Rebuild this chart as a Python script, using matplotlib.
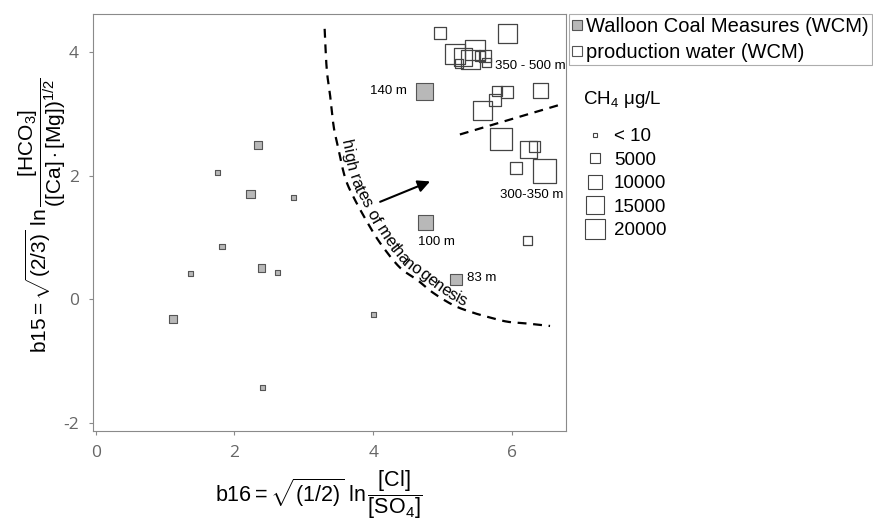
import numpy as np
import matplotlib
matplotlib.use("Agg")
import matplotlib.pyplot as plt
from matplotlib.lines import Line2D
from matplotlib.font_manager import FontProperties

plt.rcParams['font.family'] = ['Liberation Sans', 'DejaVu Sans']
plt.rcParams['mathtext.fontset'] = 'custom'
plt.rcParams['mathtext.rm'] = 'Liberation Sans'
plt.rcParams['mathtext.it'] = 'Liberation Sans:italic'
plt.rcParams['mathtext.bf'] = 'Liberation Sans:bold'
plt.rcParams['axes.unicode_minus'] = False

# ---------------- data ----------------
wcm_x = [2.34, 1.76, 2.23, 2.85, 1.82, 1.37, 2.39, 2.62, 1.11, 4.00, 2.41, 4.74, 4.75, 5.19]
wcm_y = [2.50, 2.05, 1.71, 1.65, 0.86, 0.42, 0.51, 0.44, -0.32, -0.25, -1.42, 3.37, 1.25, 0.32]
wcm_ch4 = [2300, 5, 2300, 5, 5, 5, 1600, 5, 1500, 5, 5, 12800, 9600, 5300]

pw_x = [4.97, 5.94, 5.18, 5.47, 5.30, 5.40, 5.24, 5.61, 5.54, 5.64, 5.78, 5.93, 5.76, 5.58,
        6.41, 5.84, 6.24, 6.32, 6.06, 6.47, 6.23]
pw_y = [4.32, 4.30, 3.97, 4.03, 3.92, 3.89, 3.82, 3.94, 3.94, 3.84, 3.38, 3.35, 3.23, 3.06,
        3.38, 2.59, 2.43, 2.47, 2.13, 2.08, 0.96]
pw_ch4 = [5700, 16000, 18000, 18000, 14000, 16000, 2000, 5700, 3600, 2700, 3600, 5700, 5700,
          16000, 9600, 22000, 12700, 4600, 5700, 26000, 2700]

size_legend_ch4 = [5, 5000, 10000, 15000, 20000]
size_legend_labels = ['< 10', '5000', '10000', '15000', '20000']
size_legend_title = r'CH$_4$ μg/L'

series_labels = ['Walloon Coal Measures (WCM)', 'production water (WCM)']

# depth labels attached to WCM points (index into wcm arrays)
depth_labels = ['140 m', '100 m', '83 m']
depth_idx = [11, 12, 13]
# zone labels
zone_labels = ['350 - 500 m', '300-350 m']
zone_x = [5.76, 5.83]
zone_y = [3.78, 1.69]

# methanogenesis boundary curve (annotation)
curve_x = [3.30, 3.33, 3.38, 3.43, 3.49, 3.59, 3.71, 3.95, 4.14, 4.39, 4.63, 4.86, 5.15,
           5.40, 5.64, 5.93, 6.22, 6.55]
curve_y = [4.38, 3.73, 3.29, 2.80, 2.48, 1.99, 1.67, 1.18, 0.85, 0.51, 0.32, 0.11, -0.09,
           -0.20, -0.28, -0.36, -0.39, -0.43]
curve_text = 'high rates of methanogenesis'
curve_text_start = (3.48, 2.55)
depth_line_x = [5.25, 6.72]
depth_line_y = [2.67, 3.16]
arrow_tail = (4.10, 1.58)
arrow_head = (4.82, 1.91)

# ---------------- helpers ----------------
def side_px(ch4):
    return np.sqrt(25 + 0.0208 * np.asarray(ch4, dtype=float))

def s_area(ch4):
    return (side_px(ch4) * 0.72) ** 2

W, H = 873, 524
fig = plt.figure(figsize=(W / 100, H / 100), dpi=100)
ax = fig.add_axes([93 / W, 1 - 431 / H, (566 - 93) / W, (431 - 14) / H])
ax.set_xlim(-0.04, 6.78)
ax.set_ylim(-2.13, 4.62)

ax.scatter(wcm_x, wcm_y, s=s_area(wcm_ch4), marker='s', facecolor='#b8b8b8',
           edgecolor='#555555', linewidth=0.8, zorder=3)
ax.scatter(pw_x, pw_y, s=s_area(pw_ch4), marker='s', facecolor='none',
           edgecolor='#444444', linewidth=0.9, zorder=3)

# depth labels
offsets = [(-13, 0, 'right', 'center'), (-5, -14, 'left', 'center'), (8, 1.5, 'left', 'center')]
for lab, i, (dx, dy, ha, va) in zip(depth_labels, depth_idx, offsets):
    ax.annotate(lab, xy=(wcm_x[i], wcm_y[i]), xytext=(dx, dy), textcoords='offset points',
                ha=ha, va=va, fontsize=9.5)
for lab, x, y in zip(zone_labels, zone_x, zone_y):
    ax.text(x, y, lab, ha='left', va='center', fontsize=9.5)

ax.plot(depth_line_x, depth_line_y, color='black', lw=1.6, ls=(0, (4, 3)))
ax.annotate('', xy=arrow_head, xytext=arrow_tail,
            arrowprops=dict(arrowstyle='-|>', color='black', lw=1.5, mutation_scale=18,
                            shrinkA=0, shrinkB=0))

# axes styling
for sp in ax.spines.values():
    sp.set_color('#8a8a8a')
    sp.set_linewidth(0.8)
ax.set_xticks([0, 2, 4, 6])
ax.set_yticks([-2, 0, 2, 4])
ax.tick_params(direction='out', length=3, color='#8a8a8a', labelcolor='#666666', labelsize=12.5, pad=7)
for t in ax.get_xticklabels() + ax.get_yticklabels():
    t.set_fontfamily(['Open Sans', 'DejaVu Sans'])

ax.set_xlabel(r'$\mathrm{b16} = \sqrt{(1/2)}\ \ln\dfrac{[\mathrm{Cl}]}{[\mathrm{SO}_4]}$', fontsize=15.5)
ax.xaxis.set_label_coords(0.476, (431 - 468) / 417)
ax.set_ylabel(r'$\mathrm{b15} = \sqrt{(2/3)}\ \ln\dfrac{[\mathrm{HCO}_3]}{([\mathrm{Ca}]\cdot[\mathrm{Mg}])^{1/2}}$',
              fontsize=15)
ax.yaxis.set_label_coords((68 - 93) / 473, 0.517)

# legends
h1 = [Line2D([], [], ls='', marker='s', markersize=6.5, markerfacecolor='#b8b8b8', markeredgecolor='#555555', markeredgewidth=0.8),
      Line2D([], [], ls='', marker='s', markersize=6.5, markerfacecolor='white', markeredgecolor='#555555', markeredgewidth=0.8)]
leg1 = ax.legend(h1, series_labels, loc='upper left', bbox_to_anchor=(569 / W, 1 - 14 / H),
                 bbox_transform=fig.transFigure, frameon=True, fancybox=False, edgecolor='#999999',
                 fontsize=14.5, borderpad=0.15, handlelength=0.45, handletextpad=0.25,
                 labelspacing=0.36, borderaxespad=0)
leg1.get_frame().set_linewidth(0.8)
ax.add_artist(leg1)

fig.text(583 / W, 1 - 100 / H, size_legend_title, fontsize=13.5, ha='left', va='center')
h2 = [Line2D([], [], ls='', marker='s', markersize=float(side_px(c)) * 0.72 - 0.5,
             markerfacecolor='white', markeredgecolor='#444444', markeredgewidth=0.8)
      for c in size_legend_ch4]
leg2 = ax.legend(h2, size_legend_labels, loc='upper left', bbox_to_anchor=(584 / W, 1 - 128 / H),
                 bbox_transform=fig.transFigure, frameon=False, fontsize=13.5,
                 handlelength=1.15, handletextpad=0.45, labelspacing=0.34, borderaxespad=0,
                 borderpad=0)

# curved boundary + curved text
fig.canvas.draw()
renderer = fig.canvas.get_renderer()

def catmull(P, n=40):
    P = np.vstack([2 * P[0] - P[1], P, 2 * P[-1] - P[-2]])
    out = []
    t = np.linspace(0, 1, n, endpoint=False)[:, None]
    for i in range(1, len(P) - 2):
        p0, p1, p2, p3 = P[i - 1], P[i], P[i + 1], P[i + 2]
        out.append(0.5 * ((2 * p1) + (-p0 + p2) * t + (2 * p0 - 5 * p1 + 4 * p2 - p3) * t ** 2
                          + (-p0 + 3 * p1 - 3 * p2 + p3) * t ** 3))
    out.append(P[-2][None])
    return np.vstack(out)

disp = ax.transData.transform(np.column_stack([curve_x, curve_y]))
dense = catmull(disp)
dense_data = ax.transData.inverted().transform(dense)
ax.plot(dense_data[:, 0], dense_data[:, 1], color='black', lw=1.6, ls=(0, (4, 3)))

seg = np.diff(dense, axis=0)
seglen = np.hypot(seg[:, 0], seg[:, 1])
keep = seglen > 1e-9
seg = seg[keep]
seglen = seglen[keep]
pts = np.vstack([dense[0], dense[0] + np.cumsum(seg, axis=0)])
cum = np.concatenate([[0], np.cumsum(seglen)])
start_disp = ax.transData.transform(curve_text_start)
s_cur = cum[np.argmin(np.hypot(pts[:, 0] - start_disp[0], pts[:, 1] - start_disp[1]))]

fp = FontProperties(family=['Liberation Sans'], size=12)
# advance of each character measured from the cumulative prefix width (keeps kerning consistent)
prefix_w = [0.0]
for k in range(1, len(curve_text) + 1):
    sub = curve_text[:k].replace(' ', '\u00a0')
    prefix_w.append(renderer.get_text_width_height_descent(sub + '|', fp, ismath=False)[0])
bar_w = renderer.get_text_width_height_descent('|', fp, ismath=False)[0]
prefix_w = [0.0] + [p - bar_w for p in prefix_w[1:]]
for k, ch in enumerate(curve_text):
    w = prefix_w[k + 1] - prefix_w[k]
    sc = s_cur + w / 2
    px = np.interp(sc, cum, pts[:, 0])
    py = np.interp(sc, cum, pts[:, 1])
    a = np.array([np.interp(sc - 6, cum, pts[:, 0]), np.interp(sc - 6, cum, pts[:, 1])])
    b = np.array([np.interp(sc + 6, cum, pts[:, 0]), np.interp(sc + 6, cum, pts[:, 1])])
    d = b - a
    d = d / np.hypot(*d)
    ang = np.degrees(np.arctan2(d[1], d[0]))
    nx, ny = -d[1], d[0]
    off = 4.0
    if ch != ' ':
        fig.text((px + nx * off) / W, (py + ny * off) / H, ch, fontproperties=fp,
                 rotation=ang, rotation_mode='anchor', ha='center', va='baseline')
    s_cur += w

fig.savefig('out.png', dpi=100)
